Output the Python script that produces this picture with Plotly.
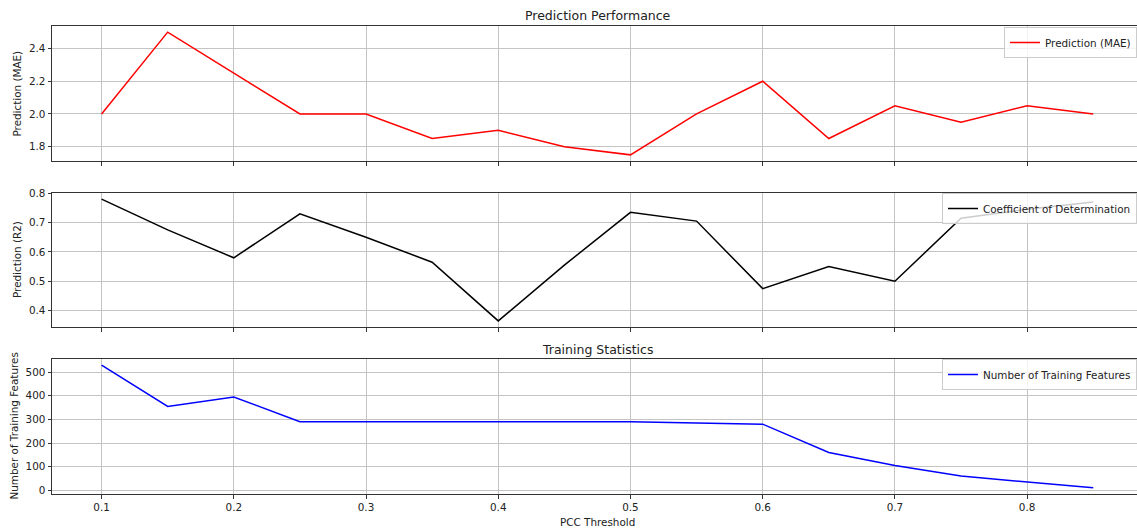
import plotly.graph_objects as go
from plotly.subplots import make_subplots

pcc_threshold = [0.1, 0.15, 0.2, 0.25, 0.3, 0.35, 0.4, 0.45, 0.5, 0.55, 0.6, 0.65, 0.7, 0.75, 0.8, 0.85]
mae = [2.0, 2.5, 2.25, 2.0, 2.0, 1.85, 1.9, 1.8, 1.75, 2.0, 2.2, 1.85, 2.05, 1.95, 2.05, 2.0]
r2 = [0.78, 0.675, 0.58, 0.73, 0.65, 0.565, 0.365, 0.555, 0.735, 0.705, 0.475, 0.55, 0.5, 0.715, 0.745, 0.77]
n_features = [530, 355, 395, 290, 290, 290, 290, 290, 290, 285, 280, 160, 105, 60, 35, 10]

FONT = "DejaVu Sans"
TXT = "#222222"
fs = 10.4

fig = make_subplots(rows=3, cols=1, shared_xaxes=True)

fig.add_trace(go.Scatter(x=pcc_threshold, y=mae, mode="lines", name="Prediction (MAE)",
                         line=dict(color="red", width=1.5), legend="legend"), row=1, col=1)
fig.add_trace(go.Scatter(x=pcc_threshold, y=r2, mode="lines", name="Coefficient of Determination",
                         line=dict(color="black", width=1.5), legend="legend2"), row=2, col=1)
fig.add_trace(go.Scatter(x=pcc_threshold, y=n_features, mode="lines", name="Number of Training Features",
                         line=dict(color="blue", width=1.5), legend="legend3"), row=3, col=1)

H = 468.0
def frac(py):
    return (494 - py) / H

domains = [(frac(161), 1.0), (frac(327), frac(193)), (0.0, frac(359))]

xcommon = dict(range=[0.0625, 0.8831], tickmode="linear", tick0=0.1, dtick=0.1, tickformat=".1f",
               showgrid=True, gridcolor="#c4c4c4", gridwidth=0.8, zeroline=False,
               showline=True, linecolor="#333333", linewidth=1, mirror=True,
               ticks="outside", ticklen=3.5, tickcolor="#333333", tickwidth=0.8,
               tickfont=dict(family=FONT, size=fs, color=TXT))
ycommon = dict(showgrid=True, gridcolor="#c4c4c4", gridwidth=0.8, zeroline=False,
               showline=True, linecolor="#333333", linewidth=1, mirror=False,
               ticks="outside", ticklen=3.5, tickcolor="#333333", tickwidth=0.8,
               tickfont=dict(family=FONT, size=fs, color=TXT))

fig.update_layout(
    xaxis=dict(**xcommon, domain=[0, 1], showticklabels=False),
    xaxis2=dict(**xcommon, domain=[0, 1], showticklabels=False),
    xaxis3=dict(**xcommon, domain=[0, 1], showticklabels=True),
    yaxis=dict(**ycommon, domain=list(domains[0]), range=[1.7125, 2.5375], dtick=0.2, tick0=1.8, tickformat=".1f"),
    yaxis2=dict(**ycommon, domain=list(domains[1]), range=[0.3443, 0.8007], dtick=0.1, tick0=0.4, tickformat=".1f"),
    yaxis3=dict(**ycommon, domain=list(domains[2]), range=[-16, 556], dtick=100, tick0=0),
)

legcommon = dict(x=1.0, xanchor="right", yanchor="top", bgcolor="rgba(255,255,255,0.8)",
                 bordercolor="#cccccc", borderwidth=1, font=dict(family=FONT, size=fs, color=TXT),
                 itemwidth=30)
fig.update_layout(
    legend=dict(**legcommon, y=frac(27)),
    legend2=dict(**legcommon, y=frac(193)),
    legend3=dict(**legcommon, y=frac(359)),
)

cx = (597.5 - 52) / 1085.0
ann = [
    dict(text="Prediction Performance", x=cx, xref="paper", y=1.0, yref="paper", xanchor="center",
         yanchor="bottom", yshift=1, showarrow=False, font=dict(family=FONT, size=12.5, color=TXT)),
    dict(text="Training Statistics", x=cx, xref="paper", y=frac(359), yref="paper", xanchor="center",
         yanchor="bottom", yshift=0, showarrow=False, font=dict(family=FONT, size=12.5, color=TXT)),
    dict(text="PCC Threshold", x=cx, xref="paper", y=0, yref="paper", xanchor="center",
         yanchor="middle", yshift=-28, showarrow=False, font=dict(family=FONT, size=fs, color=TXT)),
    dict(text="Prediction (MAE)", x=(17 - 52) / 1085.0, xref="paper", y=(domains[0][0] + domains[0][1]) / 2,
         yref="paper", xanchor="center", yanchor="middle", textangle=-90, showarrow=False,
         font=dict(family=FONT, size=fs, color=TXT)),
    dict(text="Prediction (R2)", x=(17 - 52) / 1085.0, xref="paper", y=(domains[1][0] + domains[1][1]) / 2,
         yref="paper", xanchor="center", yanchor="middle", textangle=-90, showarrow=False,
         font=dict(family=FONT, size=fs, color=TXT)),
    dict(text="Number of Training Features", x=(13 - 52) / 1085.0, xref="paper",
         y=(domains[2][0] + domains[2][1]) / 2, yref="paper", xanchor="center", yanchor="middle",
         textangle=-90, showarrow=False, font=dict(family=FONT, size=fs, color=TXT)),
]
fig.update_layout(annotations=ann)

fig.update_layout(
    width=1137, height=529, autosize=False,
    margin=dict(l=52, r=0, t=26, b=35, pad=0),
    paper_bgcolor="white", plot_bgcolor="white",
    font=dict(family=FONT, size=fs, color=TXT),
    showlegend=True,
)

fig.write_html("out.html")
